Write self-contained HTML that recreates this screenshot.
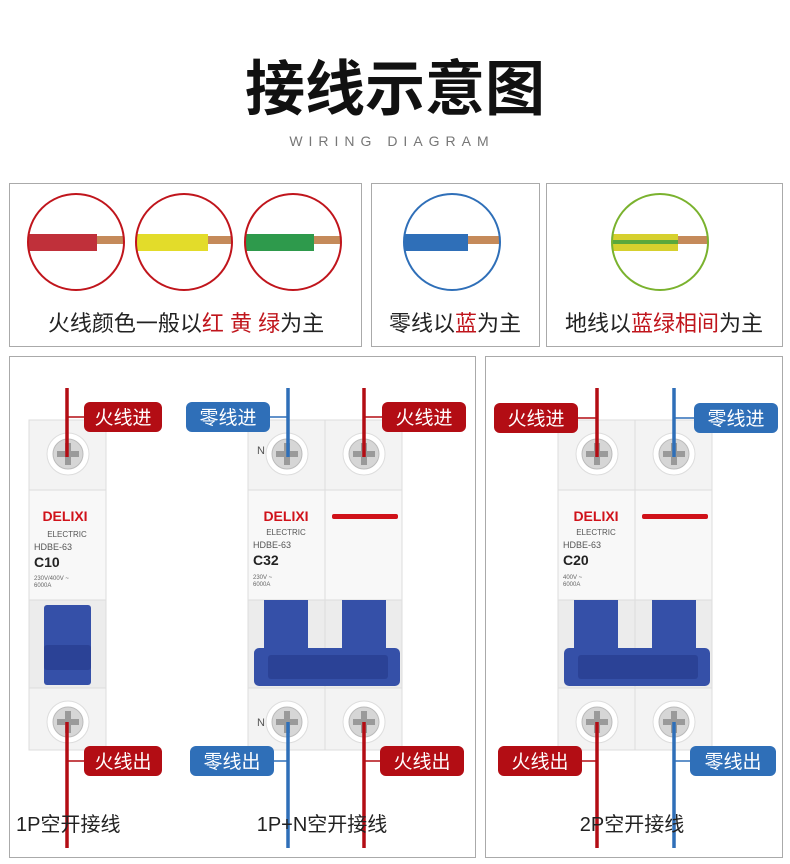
<!DOCTYPE html>
<html><head><meta charset="utf-8"><style>
html,body{margin:0;padding:0;background:#fff;}
svg{display:block;}
text{font-family:"Liberation Sans","Noto Sans CJK SC",sans-serif;}
</style></head><body>
<svg width="790" height="864" viewBox="0 0 790 864" xmlns="http://www.w3.org/2000/svg">
<defs>
<clipPath id="c1"><circle cx="76" cy="242" r="48"/></clipPath>
<clipPath id="c2"><circle cx="184" cy="242" r="48"/></clipPath>
<clipPath id="c3"><circle cx="293" cy="242" r="48"/></clipPath>
<clipPath id="c4"><circle cx="452" cy="242" r="48"/></clipPath>
<clipPath id="c5"><circle cx="660" cy="242" r="48"/></clipPath>
<g id="screw">
<circle r="21" fill="#fff" stroke="#ddd"/>
<circle r="15" fill="#d6d6d6" stroke="#bbb"/>
<rect x="-3" y="-11" width="6" height="22" fill="#9a9a9a"/>
<rect x="-11" y="-3" width="22" height="6" fill="#9a9a9a"/>
</g>
<g id="pole">
<rect x="0" y="420" width="77" height="72" fill="#f3f3f3" stroke="#ddd"/>
<rect x="0" y="490" width="77" height="112" fill="#f8f8f8" stroke="#ddd"/>
<rect x="0" y="600" width="77" height="90" fill="#ececec" stroke="#ddd"/>
<rect x="0" y="688" width="77" height="62" fill="#f3f3f3" stroke="#ddd"/>
<use href="#screw" x="39" y="454"/>
<use href="#screw" x="39" y="722"/>
</g>
</defs>

<text x="395" y="110" text-anchor="middle" font-size="60" font-weight="bold" fill="#111">接线示意图</text>
<text x="392" y="146" text-anchor="middle" font-size="14" letter-spacing="6" fill="#777">WIRING DIAGRAM</text>

<!-- top boxes -->
<rect x="9.5" y="183.5" width="352" height="163" fill="none" stroke="#aaa"/>
<rect x="371.5" y="183.5" width="168" height="163" fill="none" stroke="#aaa"/>
<rect x="546.5" y="183.5" width="236" height="163" fill="none" stroke="#aaa"/>

<g clip-path="url(#c1)"><rect x="20" y="236" width="120" height="8" fill="#c58a5a"/><rect x="20" y="234" width="77" height="17" fill="#c0303a"/></g>
<g clip-path="url(#c2)"><rect x="130" y="236" width="120" height="8" fill="#c58a5a"/><rect x="130" y="234" width="78" height="17" fill="#e3dc2a"/></g>
<g clip-path="url(#c3)"><rect x="240" y="236" width="120" height="8" fill="#c58a5a"/><rect x="240" y="234" width="74" height="17" fill="#2e9a4c"/></g>
<g clip-path="url(#c4)"><rect x="400" y="236" width="120" height="8" fill="#c58a5a"/><rect x="400" y="234" width="68" height="17" fill="#2f6fb8"/></g>
<g clip-path="url(#c5)"><rect x="608" y="236" width="120" height="8" fill="#c58a5a"/><rect x="608" y="234" width="70" height="17" fill="#d6d02e"/><rect x="608" y="240" width="70" height="4" fill="#5aa83c"/></g>
<circle cx="76" cy="242" r="48" fill="none" stroke="#c0151c" stroke-width="2"/>
<circle cx="184" cy="242" r="48" fill="none" stroke="#c0151c" stroke-width="2"/>
<circle cx="293" cy="242" r="48" fill="none" stroke="#c0151c" stroke-width="2"/>
<circle cx="452" cy="242" r="48" fill="none" stroke="#2f6fb8" stroke-width="2"/>
<circle cx="660" cy="242" r="48" fill="none" stroke="#7ab22e" stroke-width="2"/>

<text x="186" y="331" text-anchor="middle" font-size="22" fill="#222">火线颜色一般以<tspan fill="#c0151c">红 黄 绿</tspan>为主</text>
<text x="455" y="331" text-anchor="middle" font-size="22" fill="#222">零线以<tspan fill="#c0151c">蓝</tspan>为主</text>
<text x="664" y="331" text-anchor="middle" font-size="22" fill="#222">地线以<tspan fill="#c0151c">蓝绿相间</tspan>为主</text>

<!-- bottom boxes -->
<rect x="9.5" y="356.5" width="466" height="501" fill="none" stroke="#aaa"/>
<rect x="485.5" y="356.5" width="297" height="501" fill="none" stroke="#aaa"/>

<!-- 1P breaker -->
<use href="#pole" x="29"/>
<rect x="44" y="605" width="47" height="80" fill="#3550a8" rx="3"/>
<rect x="44" y="645" width="47" height="25" fill="#2b4296" rx="3"/>
<text x="65" y="521" text-anchor="middle" font-size="14" font-weight="bold" fill="#d0121a">DELIXI</text>
<text x="67" y="537" text-anchor="middle" font-size="8" fill="#555">ELECTRIC</text>
<text x="34" y="550" font-size="9" fill="#555">HDBE-63</text>
<text x="34" y="567" font-size="14" font-weight="bold" fill="#222">C10</text>
<text x="34" y="580" font-size="6" fill="#666">230V/400V ~</text>
<text x="34" y="587" font-size="6" fill="#666">6000A</text>

<!-- 1P+N breaker -->
<use href="#pole" x="248"/>
<use href="#pole" x="325"/>
<text x="257" y="454" font-size="11" fill="#555">N</text>
<text x="257" y="726" font-size="11" fill="#555">N</text>
<rect x="264" y="600" width="44" height="70" fill="#3550a8"/>
<rect x="342" y="600" width="44" height="70" fill="#3550a8"/>
<rect x="254" y="648" width="146" height="38" fill="#3550a8" rx="5"/>
<rect x="268" y="655" width="120" height="24" fill="#2b4296" rx="3"/>
<text x="286" y="521" text-anchor="middle" font-size="14" font-weight="bold" fill="#d0121a">DELIXI</text>
<text x="286" y="535" text-anchor="middle" font-size="8" fill="#555">ELECTRIC</text>
<text x="253" y="548" font-size="9" fill="#555">HDBE-63</text>
<text x="253" y="565" font-size="14" font-weight="bold" fill="#222">C32</text>
<text x="253" y="579" font-size="6" fill="#666">230V ~</text>
<text x="253" y="586" font-size="6" fill="#666">6000A</text>
<rect x="332" y="514" width="66" height="5" rx="2" fill="#d0121a"/>

<!-- 2P breaker -->
<use href="#pole" x="558"/>
<use href="#pole" x="635"/>
<rect x="574" y="600" width="44" height="70" fill="#3550a8"/>
<rect x="652" y="600" width="44" height="70" fill="#3550a8"/>
<rect x="564" y="648" width="146" height="38" fill="#3550a8" rx="5"/>
<rect x="578" y="655" width="120" height="24" fill="#2b4296" rx="3"/>
<text x="596" y="521" text-anchor="middle" font-size="14" font-weight="bold" fill="#d0121a">DELIXI</text>
<text x="596" y="535" text-anchor="middle" font-size="8" fill="#555">ELECTRIC</text>
<text x="563" y="548" font-size="9" fill="#555">HDBE-63</text>
<text x="563" y="565" font-size="14" font-weight="bold" fill="#222">C20</text>
<text x="563" y="579" font-size="6" fill="#666">400V ~</text>
<text x="563" y="586" font-size="6" fill="#666">6000A</text>
<rect x="642" y="514" width="66" height="5" rx="2" fill="#d0121a"/>

<!-- wires -->
<g stroke-width="3.5">
<line x1="67" y1="388" x2="67" y2="457" stroke="#b30d14"/>
<line x1="67" y1="722" x2="67" y2="848" stroke="#b30d14"/>
<line x1="288" y1="388" x2="288" y2="457" stroke="#2f6fb8"/>
<line x1="288" y1="722" x2="288" y2="848" stroke="#2f6fb8"/>
<line x1="364" y1="388" x2="364" y2="457" stroke="#b30d14"/>
<line x1="364" y1="722" x2="364" y2="848" stroke="#b30d14"/>
<line x1="597" y1="388" x2="597" y2="457" stroke="#b30d14"/>
<line x1="597" y1="722" x2="597" y2="848" stroke="#b30d14"/>
<line x1="674" y1="388" x2="674" y2="457" stroke="#2f6fb8"/>
<line x1="674" y1="722" x2="674" y2="848" stroke="#2f6fb8"/>
</g>
<g stroke-width="1.5">
<line x1="67" y1="417" x2="84" y2="417" stroke="#b30d14"/>
<line x1="67" y1="761" x2="84" y2="761" stroke="#b30d14"/>
<line x1="270" y1="417" x2="288" y2="417" stroke="#2f6fb8"/>
<line x1="274" y1="761" x2="288" y2="761" stroke="#2f6fb8"/>
<line x1="364" y1="417" x2="382" y2="417" stroke="#b30d14"/>
<line x1="364" y1="761" x2="380" y2="761" stroke="#b30d14"/>
<line x1="578" y1="418" x2="597" y2="418" stroke="#b30d14"/>
<line x1="582" y1="761" x2="597" y2="761" stroke="#b30d14"/>
<line x1="674" y1="418" x2="694" y2="418" stroke="#2f6fb8"/>
<line x1="674" y1="761" x2="690" y2="761" stroke="#2f6fb8"/>
</g>

<!-- labels -->
<g font-size="19" fill="#fff" text-anchor="middle">
<rect x="84" y="402" width="78" height="30" rx="6" fill="#b30d14"/><text x="123" y="424">火线进</text>
<rect x="186" y="402" width="84" height="30" rx="6" fill="#2f6fb8"/><text x="228" y="424">零线进</text>
<rect x="382" y="402" width="84" height="30" rx="6" fill="#b30d14"/><text x="424" y="424">火线进</text>
<rect x="494" y="403" width="84" height="30" rx="6" fill="#b30d14"/><text x="536" y="425">火线进</text>
<rect x="694" y="403" width="84" height="30" rx="6" fill="#2f6fb8"/><text x="736" y="425">零线进</text>
<rect x="84" y="746" width="78" height="30" rx="6" fill="#b30d14"/><text x="123" y="768">火线出</text>
<rect x="190" y="746" width="84" height="30" rx="6" fill="#2f6fb8"/><text x="232" y="768">零线出</text>
<rect x="380" y="746" width="84" height="30" rx="6" fill="#b30d14"/><text x="422" y="768">火线出</text>
<rect x="498" y="746" width="84" height="30" rx="6" fill="#b30d14"/><text x="540" y="768">火线出</text>
<rect x="690" y="746" width="86" height="30" rx="6" fill="#2f6fb8"/><text x="733" y="768">零线出</text>
</g>

<g font-size="20" fill="#222">
<text x="16" y="831">1P空开接线</text>
<text x="322" y="831" text-anchor="middle">1P+N空开接线</text>
<text x="632" y="831" text-anchor="middle">2P空开接线</text>
</g>
</svg>
</body></html>
